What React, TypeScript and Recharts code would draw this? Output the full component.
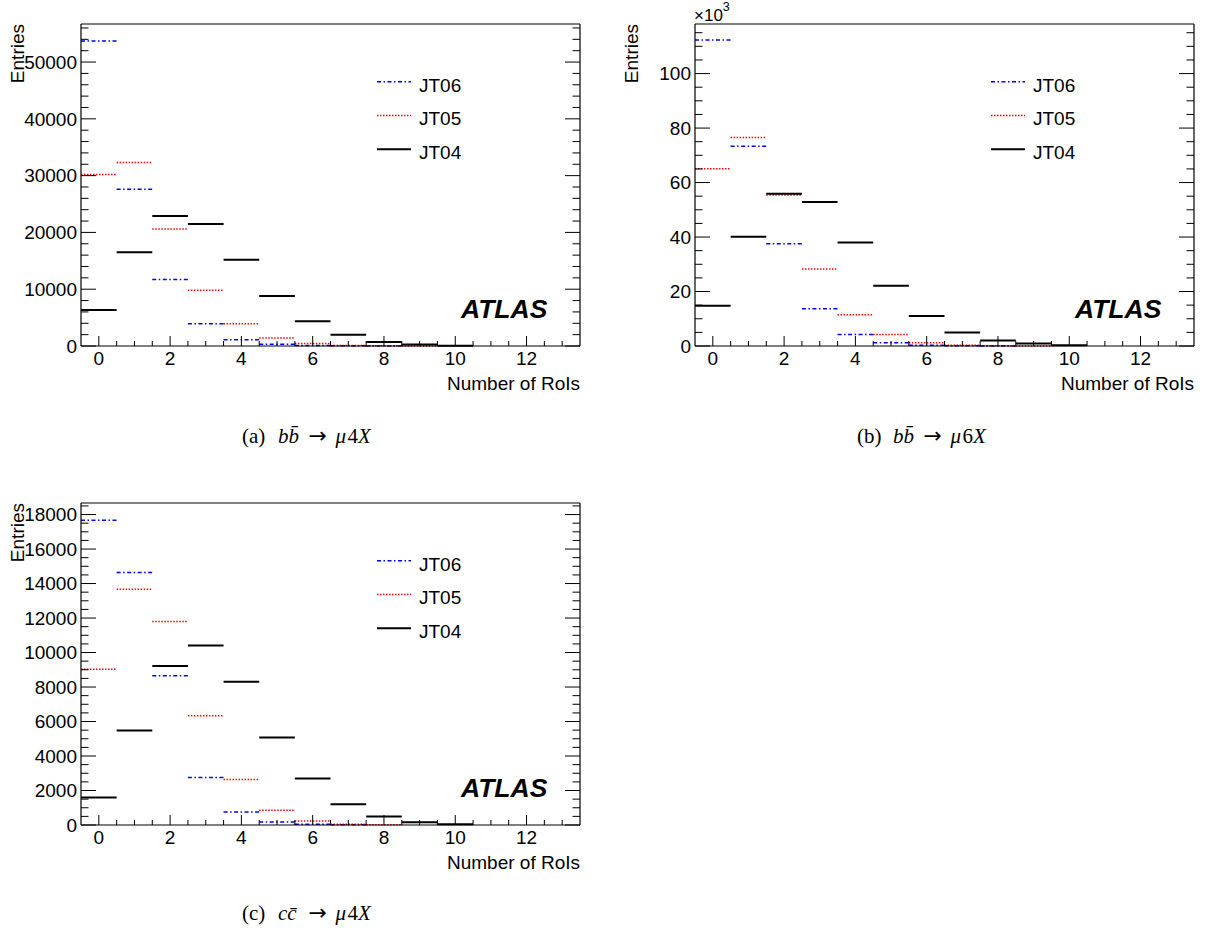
import React from 'react';
import { ComposedChart, Scatter, ErrorBar, XAxis, YAxis, Legend, Label } from 'recharts';

const FONT = '"Liberation Sans", Arial, Helvetica, sans-serif';
const SERIF = '"Liberation Serif", "Times New Roman", serif';

// bin centres = number of RoIs
const bins = [0, 1, 2, 3, 4, 5, 6, 7, 8, 9, 10];

// (a) bb -> mu4X
const jt06A = [53700, 27600, 11700, 3900, 1100, 300, 100, 30, 10];
const jt05A = [30200, 32300, 20600, 9800, 3900, 1400, 450, 100, 30, 10];
const jt04A = [6350, 16500, 22900, 21500, 15200, 8800, 4350, 2000, 700, 250, 60];

// (b) bb -> mu6X
const jt06B = [112300, 73300, 37500, 13700, 4200, 1200, 300, 80, 20];
const jt05B = [65100, 76500, 55400, 28300, 11500, 4200, 1200, 300, 80, 20];
const jt04B = [14800, 40100, 55900, 52900, 38000, 22100, 11000, 5000, 2000, 900, 300];

// (c) cc -> mu4X
const jt06C = [17670, 14640, 8660, 2760, 760, 170, 50, 10];
const jt05C = [9030, 13670, 11800, 6330, 2640, 850, 230, 50, 10];
const jt04C = [1600, 5480, 9220, 10410, 8310, 5070, 2700, 1200, 490, 160, 50];

const seriesNames = ['JT06', 'JT05', 'JT04'];

// x ticks
const xMajor = [0, 2, 4, 6, 8, 10, 12];
const xMinor = [0.5, 1, 1.5, 2.5, 3, 3.5, 4.5, 5, 5.5, 6.5, 7, 7.5, 8.5, 9, 9.5, 10.5, 11, 11.5, 12.5, 13];

// y ticks
const yMajorA = [0, 10000, 20000, 30000, 40000, 50000];
const yMinorA = [2000, 4000, 6000, 8000, 12000, 14000, 16000, 18000, 22000, 24000, 26000, 28000,
  32000, 34000, 36000, 38000, 42000, 44000, 46000, 48000, 52000, 54000, 56000];
const yMajorB = [0, 20000, 40000, 60000, 80000, 100000];
const yMinorB = [5000, 10000, 15000, 25000, 30000, 35000, 45000, 50000, 55000, 65000, 70000, 75000,
  85000, 90000, 95000, 105000, 110000, 115000];
const yMajorC = [0, 2000, 4000, 6000, 8000, 10000, 12000, 14000, 16000, 18000];
const yMinorC = [500, 1000, 1500, 2500, 3000, 3500, 4500, 5000, 5500, 6500, 7000, 7500, 8500, 9000, 9500,
  10500, 11000, 11500, 12500, 13000, 13500, 14500, 15000, 15500, 16500, 17000, 17500, 18500];

const styles = [
  { color: '#0000ff', dash: '4 2.5 1.5 2.5', width: 1.5 },
  { color: '#ff0000', dash: '1.5 1.5', width: 1.5 },
  { color: '#000000', dash: undefined, width: 2 },
];

const W = 600;
const H = 400;
const PL = 81; // plot left inside chart
const PT = 24; // plot top inside chart

type PanelProps = {
  left: number;
  top: number;
  data: number[][];
  yMax: number;
  yMajor: number[];
  yMinor: number[];
  scale?: number;
};

function Panel({ left, top, data, yMax, yMajor, yMinor, scale = 1 }: PanelProps) {
  const xTicks = [...xMajor, ...xMinor].sort((a, b) => a - b);
  const yTicks = [...yMajor, ...yMinor].sort((a, b) => a - b);

  const BottomTick = (p: any) => {
    const major = xMajor.includes(p.payload.value);
    return (
      <g>
        <line x1={p.x} x2={p.x} y1={p.y} y2={p.y - (major ? 10 : 5)} stroke="#000" strokeWidth={1} />
        {major && (
          <text x={p.x} y={p.y + 19} textAnchor="middle" fontSize={19} fontFamily={FONT} fill="#000">
            {p.payload.value}
          </text>
        )}
      </g>
    );
  };
  const TopTick = (p: any) => {
    const major = xMajor.includes(p.payload.value);
    return <line x1={p.x} x2={p.x} y1={p.y} y2={p.y + (major ? 10 : 5)} stroke="#000" strokeWidth={1} />;
  };
  const LeftTick = (p: any) => {
    const major = yMajor.includes(p.payload.value);
    return (
      <g>
        <line x1={p.x} x2={p.x + (major ? 15 : 7.5)} y1={p.y} y2={p.y} stroke="#000" strokeWidth={1} />
        {major && (
          <text x={p.x - 4} y={p.y} dy="0.36em" textAnchor="end" fontSize={19} fontFamily={FONT} fill="#000">
            {p.payload.value / scale}
          </text>
        )}
      </g>
    );
  };
  const RightTick = (p: any) => {
    const major = yMajor.includes(p.payload.value);
    return <line x1={p.x} x2={p.x - (major ? 15 : 7.5)} y1={p.y} y2={p.y} stroke="#000" strokeWidth={1} />;
  };

  const legend = () => (
    <svg width={130} height={120}>
      {seriesNames.map((name, i) => {
        const y = 21.7 + 33.8 * i;
        return (
          <g key={name}>
            <line x1={6} x2={40} y1={y} y2={y} stroke={styles[i].color} strokeWidth={styles[i].width}
              strokeDasharray={styles[i].dash} />
            <text x={48} y={y + 9.8} fontSize={19} fontFamily={FONT} fill="#000">{name}</text>
          </g>
        );
      })}
    </svg>
  );

  const axisLine = { stroke: '#000', strokeWidth: 1.2 };

  return (
    <div style={{ position: 'absolute', left, top, width: W, height: H }}>
      <ComposedChart width={W} height={H} margin={{ top: 0, right: 0, bottom: 0, left: 0 }}>
        <XAxis xAxisId="b" type="number" dataKey="x" domain={[-0.5, 13.5]} allowDataOverflow
          ticks={xTicks} interval={0} tickSize={0} tickMargin={0} tickLine={false} tick={BottomTick}
          height={H - PT - 322} axisLine={axisLine}>
          <Label content={(p: any) => {
            const vb = p.viewBox || { x: PL, y: PT + 322, width: 499, height: 54 };
            return (
              <text x={vb.x + vb.width} y={vb.y + 44} textAnchor="end" fontSize={19} fontFamily={FONT} fill="#000">
                Number of RoIs
              </text>
            );
          }} />
        </XAxis>
        <XAxis xAxisId="t" orientation="top" type="number" domain={[-0.5, 13.5]} allowDataOverflow
          ticks={xTicks} interval={0} tickSize={0} tickMargin={0} tickLine={false} tick={TopTick}
          height={PT} axisLine={axisLine} />
        <YAxis yAxisId="l" type="number" dataKey="y" domain={[0, yMax]} allowDataOverflow
          ticks={yTicks} interval={0} tickSize={0} tickMargin={0} tickLine={false} tick={LeftTick}
          width={PL} axisLine={axisLine}>
          <Label content={(p: any) => {
            const vb = p.viewBox || { x: 0, y: PT, width: PL, height: 322 };
            return (
              <text transform={`translate(${vb.x + 24},${vb.y}) rotate(-90)`} textAnchor="end"
                fontSize={19} fontFamily={FONT} fill="#000">
                Entries
              </text>
            );
          }} />
        </YAxis>
        <YAxis yAxisId="r" orientation="right" type="number" domain={[0, yMax]} allowDataOverflow
          ticks={yTicks} interval={0} tickSize={0} tickMargin={0} tickLine={false} tick={RightTick}
          width={W - PL - 499} axisLine={axisLine} />
        {data.map((values, i) => (
          <Scatter key={seriesNames[i]} name={seriesNames[i]} xAxisId="b" yAxisId="l"
            data={values.map((v, j) => ({ x: bins[j], y: v, ex: 0.5 }))} dataKey="y"
            shape={() => <g />} isAnimationActive={false}>
            <ErrorBar dataKey="ex" direction="x" width={0} stroke={styles[i].color}
              strokeWidth={styles[i].width} strokeDasharray={styles[i].dash} isAnimationActive={false} />
          </Scatter>
        ))}
        <Legend layout="vertical" align="center" verticalAlign="middle" content={legend}
          wrapperStyle={{ position: 'absolute', left: PL + 290, top: 60, width: 130, height: 120 }} />
      </ComposedChart>
    </div>
  );
}

// sub-figure caption, laid out like the LaTeX original
function Caption({ x, y, tag, a, digit }: { x: number; y: number; tag: string; a: string; digit: string }) {
  return (
    <text y={y} fontFamily={SERIF} fontSize={21} fill="#000">
      <tspan x={x}>{tag}</tspan>
      <tspan x={x + 36} fontStyle="italic">{a}</tspan>
      <tspan x={x + 66.5} fontFamily='"DejaVu Sans", sans-serif' fontSize={22}>→</tspan>
      <tspan x={x + 93.5} fontStyle="italic">μ</tspan>
      <tspan x={x + 105.5}>{digit}</tspan>
      <tspan x={x + 116} fontStyle="italic">X</tspan>
    </text>
  );
}

export default function App() {
  return (
    <div style={{ position: 'absolute', left: 0, top: 0, width: 1206, height: 934, background: '#fff' }}>
      <Panel left={0} top={0} data={[jt06A, jt05A, jt04A]} yMax={56700} yMajor={yMajorA} yMinor={yMinorA} />
      <Panel left={614} top={0} data={[jt06B, jt05B, jt04B]} yMax={118200} yMajor={yMajorB} yMinor={yMinorB}
        scale={1000} />
      <Panel left={0} top={479} data={[jt06C, jt05C, jt04C]} yMax={18670} yMajor={yMajorC} yMinor={yMinorC} />
      <svg width={1206} height={934} style={{ position: 'absolute', left: 0, top: 0, pointerEvents: 'none' }}>
        <g fontFamily={FONT} fontWeight="bold" fontStyle="italic" fontSize={26.5} fill="#000">
          <text x={461} y={318}>ATLAS</text>
          <text x={1075} y={318}>ATLAS</text>
          <text x={461} y={797}>ATLAS</text>
        </g>
        <text x={694} y={21} fontFamily={FONT} fontSize={17} fill="#000">
          ×10<tspan fontSize={12.5} dy={-10}>3</tspan>
        </text>
        <Caption x={242} y={443} tag="(a)" a={'b\u0062\u0304'} digit="4" />
        <Caption x={857} y={443} tag="(b)" a={'b\u0062\u0304'} digit="6" />
        <Caption x={242} y={920} tag="(c)" a={'c\u0063\u0304'} digit="4" />
      </svg>
    </div>
  );
}
